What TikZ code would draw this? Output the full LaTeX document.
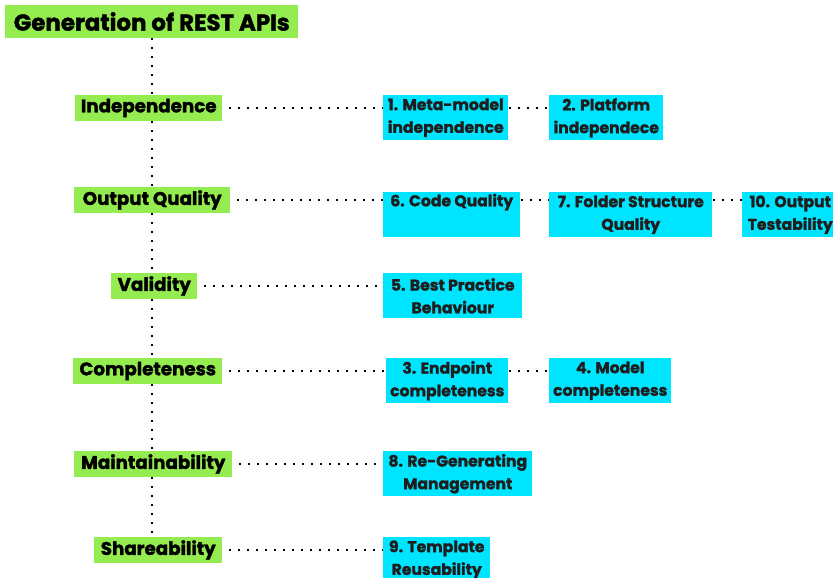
\documentclass[tikz,border=0pt]{standalone}
\usepackage{fontspec}
\setmainfont{Poppins}[BoldFeatures={FakeBold=1.6}]
\usetikzlibrary{positioning}

\definecolor{limegreen}{HTML}{94EC50}
\definecolor{aqua}{HTML}{00E5FF}
\definecolor{ink}{HTML}{1E1E1E}

\begin{document}
\begin{tikzpicture}[
  x=0.75pt, y=-0.75pt,
  wd/.style={minimum width=#1*0.75pt},
  topic/.style={rectangle, fill=limegreen, inner sep=0pt, anchor=west,
                minimum height=19.5pt, font=\bfseries\fontsize{13.7}{16}\selectfont},
  item/.style={rectangle, fill=aqua, text=ink, inner sep=0pt, anchor=north west,
               minimum height=33.75pt, align=center, font=\bfseries\fontsize{11.7}{17}\selectfont},
  dots/.style={line width=1.6pt, dash pattern=on 1.6pt off 5.15pt}
]
  \clip (0,0) rectangle (833,578);

  % root and quality attributes
  \node[topic, wd=293, minimum height=24.75pt, font=\bfseries\fontsize{17.2}{20}\selectfont] (title) at (5,21.5) {Generation of REST APIs};
  \node[topic, wd=147] (indep) at (75,108) {Independence};
  \node[topic, wd=156] (outq)  at (74,200) {Output Quality};
  \node[topic, wd=86]  (valid) at (111,286) {Validity};
  \node[topic, wd=149] (compl) at (73,371) {Completeness};
  \node[topic, wd=158] (maint) at (74,464) {Maintainability};
  \node[topic, wd=128] (share) at (94,550) {Shareability};

  % requirements
  \node[item, wd=125] (meta)   at (383,95)  {1. Meta-model\\independence};
  \node[item, wd=114] (plat)   at (549,95)  {2. Platform\\independece};
  \node[item, wd=137] (code)   at (383,192) {6. Code Quality\\\strut};
  \node[item, wd=163] (folder) at (549,192) {7. Folder Structure\\Quality};
  \node[item, wd=96]  (test)   at (742,192) {10. Output\\Testability};
  \node[item, wd=139] (best)   at (383,273) {5. Best Practice\\Behaviour};
  \node[item, wd=122] (endp)   at (386,358) {3. Endpoint\\completeness};
  \node[item, wd=122] (model)  at (549,358) {4. Model\\completeness};
  \node[item, wd=149] (regen)  at (383,451) {8. Re-Generating\\Management};
  \node[item, wd=107] (templ)  at (383,537) {9. Template\\Reusability};

  % trunk
  \foreach \a/\b in {title/indep, indep/outq, outq/valid, valid/compl, compl/maint, maint/share}
    \draw[dots] (title.south |- \a.south) -- (title.south |- \b.north);

  % branches
  \foreach \row/\first in {indep/meta, outq/code, valid/best, compl/endp, maint/regen, share/templ}
    \draw[dots] ([xshift=5pt]\row.east) -- (\row -| \first.west);
  \foreach \row/\a/\b in {indep/meta/plat, outq/code/folder, outq/folder/test, compl/endp/model}
    \draw[dots] (\row -| \a.east) -- (\row -| \b.west);
\end{tikzpicture}
\end{document}
